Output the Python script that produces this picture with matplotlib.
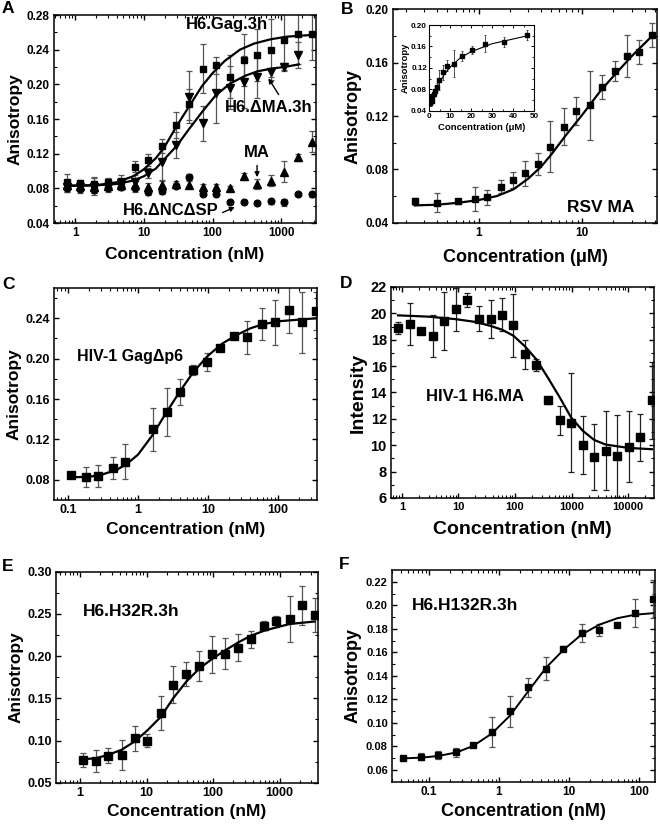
import matplotlib
matplotlib.use('Agg')
import matplotlib.pyplot as plt
from matplotlib.ticker import FuncFormatter, MultipleLocator, LogLocator, FixedLocator
import numpy as np

# ---------------- data ----------------
# A
a_conc = [0.75, 1.18, 1.87, 2.95, 4.65, 7.3, 11.6, 18.3, 28.9, 45.5, 72, 113, 179, 282, 445, 703, 1110, 1750, 2760]
a_gag = [0.087, 0.086, 0.085, 0.087, 0.089, 0.105, 0.113, 0.129, 0.153, 0.177, 0.218, 0.222, 0.209, 0.228, 0.234, 0.240, 0.251, 0.258, 0.258]
a_gag_err = [0.010, 0.004, 0.008, 0.005, 0.006, 0.006, 0.007, 0.008, 0.015, 0.018, 0.028, 0.010, 0.025, 0.030, 0.030, 0.035, 0.035, 0.035, 0.030]
a_dma = [0.082, 0.081, 0.082, 0.082, 0.086, 0.087, 0.098, 0.110, 0.130, 0.185, 0.155, 0.190, 0.196, 0.203, 0.209, 0.214, 0.220, 0.234]
a_dma_err = [0.006, 0.004, 0.010, 0.004, 0.005, 0.008, 0.006, 0.020, 0.015, 0.030, 0.020, 0.035, 0.025, 0.030, 0.025, 0.005, 0.005, 0.015]
a_ma = [0.084, 0.083, 0.082, 0.083, 0.084, 0.084, 0.082, 0.084, 0.085, 0.084, 0.082, 0.082, 0.080, 0.094, 0.085, 0.089, 0.099, 0.116, 0.134]
a_ma_err = [0.005, 0.004, 0.004, 0.004, 0.004, 0.005, 0.004, 0.004, 0.004, 0.004, 0.003, 0.003, 0.003, 0.004, 0.006, 0.006, 0.012, 0.004, 0.012]
a_nc = [0.080, 0.079, 0.078, 0.080, 0.082, 0.080, 0.076, 0.077, 0.083, 0.093, 0.074, 0.074, 0.064, 0.064, 0.063, 0.065, 0.064, 0.073, 0.073]
a_nc_err = [0.004, 0.004, 0.003, 0.004, 0.004, 0.004, 0.004, 0.004, 0.003, 0.003, 0.002, 0.002, 0.002, 0.002, 0.002, 0.003, 0.004, 0.002, 0.003]
a_gag_fit_x = [0.75, 2, 4, 7, 10, 15, 20, 30, 45, 70, 100, 150, 250, 400, 700, 1200, 2800]
a_gag_fit_y = [0.083, 0.0835, 0.087, 0.094, 0.102, 0.115, 0.128, 0.152, 0.174, 0.198, 0.213, 0.227, 0.240, 0.247, 0.252, 0.255, 0.257]
a_dma_fit_x = [0.75, 2, 4, 7, 10, 15, 20, 30, 45, 70, 110, 180, 300, 450, 700, 1100, 1800]
a_dma_fit_y = [0.083, 0.0835, 0.085, 0.089, 0.094, 0.103, 0.114, 0.129, 0.148, 0.168, 0.187, 0.201, 0.210, 0.215, 0.218, 0.220, 0.223]

# B
b_conc = [0.243, 0.394, 0.638, 0.921, 1.21, 1.63, 2.16, 2.83, 3.75, 4.92, 6.61, 8.75, 11.75, 15.5, 20.5, 26.9, 35.6, 46.8]
b_aniso = [0.056, 0.055, 0.056, 0.058, 0.059, 0.067, 0.072, 0.077, 0.084, 0.097, 0.112, 0.124, 0.128, 0.142, 0.154, 0.165, 0.168, 0.181]
b_err = [0.0025, 0.007, 0.002, 0.009, 0.0055, 0.005, 0.006, 0.0095, 0.008, 0.019, 0.014, 0.0105, 0.026, 0.009, 0.0075, 0.016, 0.009, 0.009]
b_fit_x = [0.243, 0.4, 0.64, 1.0, 1.5, 2.16, 3.0, 4.0, 5.0, 7.0, 10, 15, 20, 30, 47]
b_fit_y = [0.053, 0.0535, 0.055, 0.057, 0.060, 0.065, 0.073, 0.082, 0.091, 0.106, 0.121, 0.139, 0.150, 0.165, 0.180]

# C
c_conc = [0.112, 0.178, 0.271, 0.432, 0.66, 1.64, 2.55, 3.98, 6.19, 9.68, 14.7, 23.4, 36.6, 58.3, 90.8, 141, 221, 344]
c_aniso = [0.085, 0.083, 0.084, 0.092, 0.098, 0.130, 0.147, 0.167, 0.189, 0.197, 0.211, 0.222, 0.221, 0.234, 0.236, 0.248, 0.236, 0.247]
c_err = [0.001, 0.010, 0.011, 0.011, 0.017, 0.021, 0.024, 0.013, 0.005, 0.009, 0.002, 0.003, 0.016, 0.016, 0.022, 0.023, 0.030, 0.019]
c_fit_x = [0.112, 0.2, 0.3, 0.5, 0.7, 1.0, 1.6, 2.5, 4.0, 6.2, 10, 16, 25, 40, 60, 100, 150, 350]
c_fit_y = [0.0825, 0.083, 0.085, 0.090, 0.096, 0.105, 0.124, 0.146, 0.168, 0.187, 0.203, 0.215, 0.223, 0.230, 0.234, 0.237, 0.238, 0.240]

# D
d_conc = [0.85, 1.36, 2.2, 3.5, 5.6, 9.0, 14.4, 23, 37, 59, 94, 150, 240, 385, 615, 985, 1580, 2520, 4030, 6450, 10300, 16500, 26400]
d_int = [18.9, 19.2, 18.7, 18.3, 19.4, 20.3, 21.0, 19.6, 19.6, 19.9, 19.1, 16.9, 16.1, 13.4, 11.9, 11.7, 10.0, 9.1, 9.6, 9.2, 9.9, 10.6, 13.4]
d_err = [0.45, 1.6, 0.1, 1.6, 2.2, 1.6, 0.55, 0.95, 1.45, 1.25, 2.4, 1.1, 0.45, 0.25, 1.1, 3.75, 2.2, 2.5, 3.0, 3.1, 2.7, 1.8, 2.9]
d_fit_x = [0.85, 3, 9, 20, 37, 60, 94, 150, 240, 385, 615, 985, 1580, 2520, 4030, 10000, 26400]
d_fit_y = [19.85, 19.75, 19.56, 19.35, 19.05, 18.75, 18.3, 17.5, 16.5, 15.1, 13.65, 12.1, 11.1, 10.4, 10.05, 9.8, 9.7]

# E
e_conc = [1.10, 1.74, 2.66, 4.22, 6.68, 10.3, 16.4, 25.1, 39.8, 61.6, 97.8, 153, 236, 366, 580, 890, 1410, 2170, 3350]
e_aniso = [0.077, 0.076, 0.082, 0.083, 0.1025, 0.100, 0.133, 0.166, 0.179, 0.188, 0.202, 0.203, 0.210, 0.220, 0.236, 0.241, 0.244, 0.260, 0.249]
e_err = [0.008, 0.013, 0.009, 0.018, 0.015, 0.008, 0.020, 0.022, 0.014, 0.018, 0.022, 0.018, 0.016, 0.010, 0.005, 0.007, 0.027, 0.023, 0.020]
e_fit_x = [1.1, 1.74, 2.66, 4.22, 6.68, 10.3, 16.4, 25.1, 39.8, 61.6, 97.8, 153, 236, 366, 580, 890, 1410, 3350]
e_fit_y = [0.0777, 0.079, 0.083, 0.089, 0.099, 0.112, 0.128, 0.150, 0.170, 0.185, 0.197, 0.207, 0.216, 0.224, 0.230, 0.234, 0.238, 0.241]

# F
f_conc = [0.042, 0.076, 0.136, 0.243, 0.43, 0.787, 1.44, 2.62, 4.69, 8.3, 15.2, 27.1, 49, 87.7, 157]
f_aniso = [0.0698, 0.0712, 0.0726, 0.0749, 0.0816, 0.0923, 0.1097, 0.1302, 0.1462, 0.163, 0.1765, 0.1793, 0.1835, 0.1933, 0.2051]
f_err = [0.001, 0.003, 0.0035, 0.004, 0.001, 0.0127, 0.013, 0.008, 0.010, 0.002, 0.008, 0.005, 0.001, 0.012, 0.016]
f_fit_x = [0.042, 0.08, 0.14, 0.25, 0.43, 0.79, 1.44, 2.62, 4.7, 8.3, 15, 27, 49, 88, 160]
f_fit_y = [0.0698, 0.0705, 0.072, 0.075, 0.0805, 0.091, 0.1063, 0.127, 0.147, 0.162, 0.175, 0.1835, 0.189, 0.192, 0.1933]

# ---------------- styling ----------------
plt.rcParams['font.family'] = ['Liberation Sans', 'DejaVu Sans']
plt.rcParams['font.weight'] = 'bold'
plt.rcParams['axes.labelweight'] = 'bold'
plt.rcParams['axes.linewidth'] = 1.1
plt.rcParams['xtick.direction'] = 'in'
plt.rcParams['ytick.direction'] = 'in'
plt.rcParams['xtick.top'] = True
plt.rcParams['ytick.right'] = True

fig = plt.figure(figsize=(6.6, 8.24), dpi=100)


def px_axes(l, t, r, b):
    # axes from pixel box (left, top, right, bottom)
    return fig.add_axes([l / 660, 1 - b / 824, (r - l) / 660, (b - t) / 824])


def style(ax, tick_fs, label_fs, xlabel, ylabel, xpad=2, logx=True):
    if logx:
        ax.set_xscale('log')
        ax.xaxis.set_major_locator(LogLocator(base=10))
        ax.xaxis.set_minor_locator(LogLocator(base=10, subs=np.arange(2, 10)))
        ax.xaxis.set_major_formatter(FuncFormatter(lambda v, p: f'{v:g}'))
    ax.tick_params(which='major', length=3.5, width=1.0, labelsize=tick_fs, pad=3)
    ax.tick_params(which='minor', length=2, width=0.8)
    ax.set_xlabel(xlabel, fontsize=label_fs, labelpad=xpad)
    ax.set_ylabel(ylabel, fontsize=label_fs, labelpad=3)


eb = dict(fmt='none', ecolor='#555555', elinewidth=0.9, capsize=2, capthick=0.9, zorder=2)

# ---------------- A ----------------
ax = px_axes(54, 15, 316, 223)
ax.errorbar(a_conc, a_gag, yerr=a_gag_err, **eb)
ax.errorbar(a_conc[:len(a_dma)], a_dma, yerr=a_dma_err, **eb)
ax.errorbar(a_conc, a_ma, yerr=a_ma_err, **eb)
ax.errorbar(a_conc, a_nc, yerr=a_nc_err, **eb)
ax.plot(a_gag_fit_x, a_gag_fit_y, color='black', lw=1.6, zorder=3)
ax.plot(a_dma_fit_x, a_dma_fit_y, color='black', lw=1.6, zorder=3)
ax.plot(a_conc, a_gag, 's', color='black', ms=4.8, zorder=4)
ax.plot(a_conc[:len(a_dma)], a_dma, 'v', color='black', ms=5.5, zorder=4)
ax.plot(a_conc, a_ma, '^', color='black', ms=5.5, zorder=4)
ax.plot(a_conc, a_nc, 'o', color='black', ms=4.8, zorder=4)
ax.set_xlim(0.49, 3200)
ax.set_ylim(0.04, 0.28)
ax.yaxis.set_major_locator(MultipleLocator(0.04))
ax.yaxis.set_minor_locator(MultipleLocator(0.02))
ax.yaxis.set_major_formatter(FuncFormatter(lambda v, p: f'{v:.2f}'))
style(ax, 8.5, 12.5, 'Concentration (nM)', 'Anisotropy', xpad=6)
ax.text(0.66, 0.955, 'H6.Gag.3h', transform=ax.transAxes, ha='center', va='center', fontsize=12)
ax.text(0.82, 0.553, 'H6.\u0394MA.3h', transform=ax.transAxes, ha='center', va='center', fontsize=12)
ax.annotate('', xy=(0.813, 0.707), xytext=(0.863, 0.606), xycoords='axes fraction',
            arrowprops=dict(arrowstyle='-|>', color='black', lw=1.0, mutation_scale=7))
ax.text(0.775, 0.337, 'MA', transform=ax.transAxes, ha='center', va='center', fontsize=12)
ax.annotate('', xy=(0.775, 0.207), xytext=(0.775, 0.290), xycoords='axes fraction',
            arrowprops=dict(arrowstyle='-|>', color='black', lw=1.0, mutation_scale=7))
ax.text(0.447, 0.062, 'H6.\u0394NC\u0394SP', transform=ax.transAxes, ha='center', va='center', fontsize=12)
ax.annotate('', xy=(0.70, 0.082), xytext=(0.634, 0.045), xycoords='axes fraction',
            arrowprops=dict(arrowstyle='-|>', color='black', lw=1.0, mutation_scale=7))

# ---------------- B ----------------
ax = px_axes(393, 9.5, 657, 222.7)
ax.errorbar(b_conc, b_aniso, yerr=b_err, **eb)
ax.plot(b_fit_x, b_fit_y, color='black', lw=1.6, zorder=3)
ax.plot(b_conc, b_aniso, 's', color='black', ms=5, zorder=4)
ax.set_xlim(0.149, 52.6)
ax.set_ylim(0.04, 0.20)
ax.yaxis.set_major_locator(MultipleLocator(0.04))
ax.yaxis.set_minor_locator(MultipleLocator(0.02))
ax.yaxis.set_major_formatter(FuncFormatter(lambda v, p: f'{v:.2f}'))
style(ax, 8.5, 13, 'Concentration (\u03bcM)', 'Anisotropy', xpad=7)
ax.text(0.786, 0.071, 'RSV MA', transform=ax.transAxes, ha='center', va='center', fontsize=12.5)

# inset of B, linear axis
ins = px_axes(429, 25, 534, 110.7)
ins.errorbar(b_conc, b_aniso, yerr=b_err, fmt='none', ecolor='#333333', elinewidth=0.6, capsize=1, capthick=0.6)
ins.plot(b_fit_x, b_fit_y, color='black', lw=0.8)
ins.plot(b_conc, b_aniso, 's', color='black', ms=2.2)
ins.set_xlim(0, 50)
ins.set_ylim(0.04, 0.20)
ins.xaxis.set_major_locator(MultipleLocator(10))
ins.xaxis.set_minor_locator(MultipleLocator(5))
ins.yaxis.set_major_locator(MultipleLocator(0.04))
ins.yaxis.set_minor_locator(MultipleLocator(0.02))
ins.yaxis.set_major_formatter(FuncFormatter(lambda v, p: f'{v:.2f}'))
ins.tick_params(which='major', length=2, width=0.7, labelsize=5.8, pad=1.5)
ins.tick_params(which='minor', length=1.2, width=0.6)
for s in ins.spines.values():
    s.set_linewidth(0.8)
ins.set_xlabel('Concentration (\u03bcM)', fontsize=6.8, labelpad=2)
ins.set_ylabel('Anisotropy', fontsize=6.8, labelpad=1)

# ---------------- C ----------------
ax = px_axes(54, 288, 317, 500)
ax.errorbar(c_conc, c_aniso, yerr=c_err, **eb)
ax.plot(c_fit_x, c_fit_y, color='black', lw=1.6, zorder=3)
ax.plot(c_conc, c_aniso, 's', color='black', ms=5.5, zorder=4)
ax.set_xlim(0.063, 360)
ax.set_ylim(0.06, 0.27)
ax.yaxis.set_major_locator(FixedLocator([0.08, 0.12, 0.16, 0.20, 0.24]))
ax.yaxis.set_minor_locator(FixedLocator([0.10, 0.14, 0.18, 0.22, 0.26]))
ax.yaxis.set_major_formatter(FuncFormatter(lambda v, p: f'{v:.2f}'))
style(ax, 9, 12.5, 'Concentration (nM)', 'Anisotropy', xpad=4)
ax.text(0.291, 0.675, 'HIV-1 Gag\u0394p6', transform=ax.transAxes, ha='center', va='center', fontsize=11.5)

# ---------------- D ----------------
ax = px_axes(391, 287, 654, 498)
ax.errorbar(d_conc, d_int, yerr=d_err, fmt='none', ecolor='#222222', elinewidth=0.9, capsize=2, capthick=0.9, zorder=2)
ax.plot(d_fit_x, d_fit_y, color='black', lw=1.6, zorder=3)
ax.plot(d_conc, d_int, 's', color='black', ms=6, zorder=4)
ax.set_xlim(0.64, 28800)
ax.set_ylim(6, 22)
ax.yaxis.set_major_locator(MultipleLocator(2))
ax.yaxis.set_minor_locator(MultipleLocator(1))
style(ax, 8, 14, 'Concentration (nM)', 'Intensity', xpad=6)
ax.tick_params(axis='y', labelsize=10.5)
ax.text(0.319, 0.48, 'HIV-1 H6.MA', transform=ax.transAxes, ha='center', va='center', fontsize=12)

# ---------------- E ----------------
ax = px_axes(56, 571.7, 318, 782.7)
ax.errorbar(e_conc, e_aniso, yerr=e_err, **eb)
ax.plot(e_fit_x, e_fit_y, color='black', lw=1.6, zorder=3)
ax.plot(e_conc, e_aniso, 's', color='black', ms=5.5, zorder=4)
ax.set_xlim(0.437, 3760)
ax.set_ylim(0.05, 0.30)
ax.yaxis.set_major_locator(MultipleLocator(0.05))
ax.yaxis.set_minor_locator(MultipleLocator(0.025))
ax.yaxis.set_major_formatter(FuncFormatter(lambda v, p: f'{v:.2f}'))
style(ax, 9, 12.5, 'Concentration (nM)', 'Anisotropy', xpad=4)
ax.text(0.288, 0.811, 'H6.H32R.3h', transform=ax.transAxes, ha='center', va='center', fontsize=12.5)

# ---------------- F ----------------
ax = px_axes(392, 570, 655, 781.7)
ax.errorbar(f_conc, f_aniso, yerr=f_err, **eb)
ax.plot(f_fit_x, f_fit_y, color='black', lw=1.4, zorder=3)
ax.plot(f_conc, f_aniso, 's', color='black', ms=4.3, zorder=4)
ax.set_xlim(0.0296, 169)
ax.set_ylim(0.05, 0.23)
ax.yaxis.set_major_locator(FixedLocator([0.06, 0.08, 0.10, 0.12, 0.14, 0.16, 0.18, 0.20, 0.22]))
ax.yaxis.set_minor_locator(FixedLocator([0.07, 0.09, 0.11, 0.13, 0.15, 0.17, 0.19, 0.21]))
ax.yaxis.set_major_formatter(FuncFormatter(lambda v, p: f'{v:.2f}'))
style(ax, 8.5, 13, 'Concentration (nM)', 'Anisotropy', xpad=4)
ax.tick_params(axis='y', labelsize=8)
ax.text(0.279, 0.832, 'H6.H132R.3h', transform=ax.transAxes, ha='center', va='center', fontsize=12.5)

# panel letters
for lab, x, y in [('A', 2, 1), ('B', 341, 2), ('C', 2, 277), ('D', 340, 276), ('E', 2, 559), ('F', 339, 557)]:
    fig.text(x / 660, 1 - y / 824, lab, fontsize=12.5, fontweight='bold', ha='left', va='top')

fig.savefig('out.png', dpi=100)
